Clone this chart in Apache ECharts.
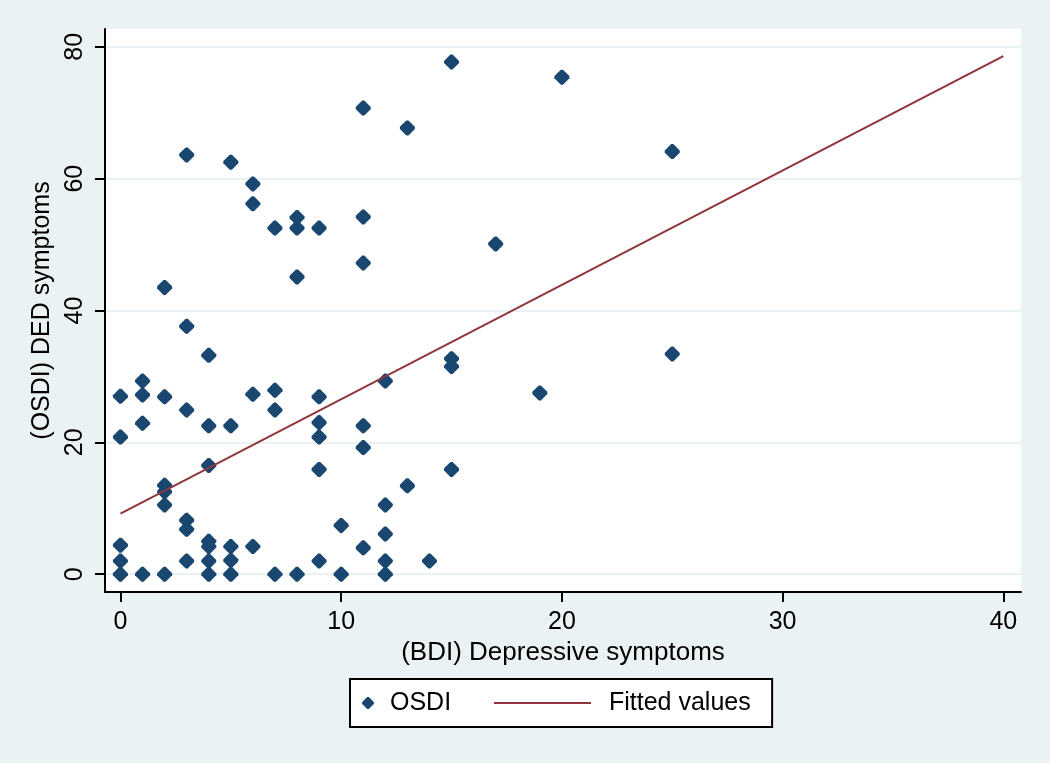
<!DOCTYPE html>
<html>
<head>
<meta charset="utf-8">
<script src="https://cdn.jsdelivr.net/npm/echarts@6/dist/echarts.min.js"></script>
<style>
  html, body { margin: 0; padding: 0; background: #eaf2f3; }
  #main { width: 1050px; height: 763px; }
</style>
</head>
<body>
<div id="main"></div>
<script>
// BDI score (x) and OSDI score (y) for each subject
var bdi = [
  0, 0, 0, 0, 0,
  1, 1, 1, 1,
  2, 2, 2, 2, 2, 2,
  3, 3, 3, 3, 3, 3,
  4, 4, 4, 4, 4, 4, 4,
  5, 5, 5, 5, 5,
  6, 6, 6, 6,
  7, 7, 7, 7,
  8, 8, 8, 8,
  9, 9, 9, 9, 9, 9,
  10, 10,
  11, 11, 11, 11, 11, 11,
  12, 12, 12, 12, 12,
  13, 13,
  14,
  15, 15, 15, 15,
  17, 19, 20,
  25, 25
];
var osdi = [
  27, 20.8, 4.4, 2.0, 0,
  29.3, 27.2, 22.9, 0,
  43.5, 26.9, 13.5, 12.5, 10.5, 0,
  63.6, 37.6, 24.9, 8.2, 6.8, 2.0,
  33.2, 22.5, 16.5, 5.0, 4.2, 2.0, 0,
  62.5, 22.5, 4.2, 2.1, 0,
  59.2, 56.2, 27.3, 4.2,
  52.5, 27.9, 24.9, 0,
  54.1, 52.5, 45.1, 0,
  52.5, 26.9, 23.0, 20.8, 15.9, 2.0,
  7.4, 0,
  70.7, 54.2, 47.2, 22.5, 19.2, 4.0,
  29.3, 10.5, 6.1, 2.0, 0,
  67.7, 13.4,
  2.0,
  77.7, 32.7, 31.5, 15.9,
  50.1, 27.5, 75.4,
  64.1, 33.4
];
// fitted regression line end points
var fitX = [0, 40];
var fitY = [9.2, 78.6];

var xTicks = [0, 10, 20, 30, 40];
var yTicks = [0, 20, 40, 60, 80];

var FONT = '"Liberation Sans", Arial, sans-serif';
// blunt diamond, like the stata marker
var DIAMOND = 'path://M6,0 L8,0 L14,6 L14,8 L8,14 L6,14 L0,8 L0,6 Z';

var chart = echarts.init(document.getElementById('main'));

var scatterData = bdi.map(function (x, i) { return [x, osdi[i]]; });
var fitData = fitX.map(function (x, i) { return [x, fitY[i]]; });

var option = {
  backgroundColor: '#eaf2f3',
  animation: false,
  textStyle: { fontFamily: FONT, color: '#000' },
  grid: {
    left: 105, top: 29, right: 29, bottom: 171,
    show: true, backgroundColor: '#ffffff', borderWidth: 0,
    outerBoundsMode: 'none'
  },
  legend: [
    {
      data: [{ name: 'OSDI', icon: DIAMOND }],
      left: 350, top: 679,
      orient: 'horizontal',
      itemWidth: 12, itemHeight: 12,
      padding: [11, 321, 11, 12],
      backgroundColor: '#ffffff',
      borderColor: '#000000', borderWidth: 2,
      borderRadius: 0,
      selectedMode: false,
      textStyle: { fontFamily: FONT, fontSize: 25, lineHeight: 26, color: '#000', padding: [0, 0, 0, 11] }
    },
    {
      data: [{ name: 'Fitted values', icon: 'rect' }],
      left: 494, top: 690,
      z: 6,
      itemWidth: 97, itemHeight: 2,
      padding: 0,
      selectedMode: false,
      textStyle: { fontFamily: FONT, fontSize: 25, lineHeight: 26, color: '#000', padding: [0, 0, 0, 13] }
    }
  ],
  xAxis: {
    type: 'value',
    min: -0.7, max: 40.8,
    name: '(BDI) Depressive symptoms',
    nameLocation: 'middle',
    nameGap: 38,
    nameTextStyle: { fontFamily: FONT, fontSize: 26, color: '#000' },
    axisLine: { show: true, onZero: false, lineStyle: { color: '#000', width: 2 } },
    axisTick: { show: true, length: 10, lineStyle: { color: '#000', width: 2 }, customValues: xTicks },
    axisLabel: { fontFamily: FONT, fontSize: 25, color: '#000', margin: 18, customValues: xTicks },
    splitLine: { show: false }
  },
  yAxis: {
    type: 'value',
    min: -2.7, max: 82.7,
    name: '(OSDI) DED symptoms',
    nameLocation: 'middle',
    nameGap: 34,
    nameTextStyle: { fontFamily: FONT, fontSize: 25, color: '#000' },
    axisLine: { show: true, onZero: false, lineStyle: { color: '#000', width: 2 } },
    axisTick: { show: true, length: 10, lineStyle: { color: '#000', width: 2 }, customValues: yTicks },
    axisLabel: { fontFamily: FONT, fontSize: 25, color: '#000', margin: 17, rotate: 90, customValues: yTicks },
    splitLine: { show: true, lineStyle: { color: '#eaf2f3', width: 2 } }
  },
  series: [
    {
      name: 'OSDI',
      type: 'scatter',
      symbol: DIAMOND,
      symbolSize: 15,
      itemStyle: { color: '#1a476f', opacity: 1 },
      data: scatterData,
      z: 3
    },
    {
      name: 'Fitted values',
      type: 'line',
      showSymbol: false,
      symbol: 'none',
      lineStyle: { color: '#90353b', width: 2 },
      itemStyle: { color: '#90353b' },
      data: fitData,
      z: 4
    }
  ]
};

chart.setOption(option);
</script>
</body>
</html>
